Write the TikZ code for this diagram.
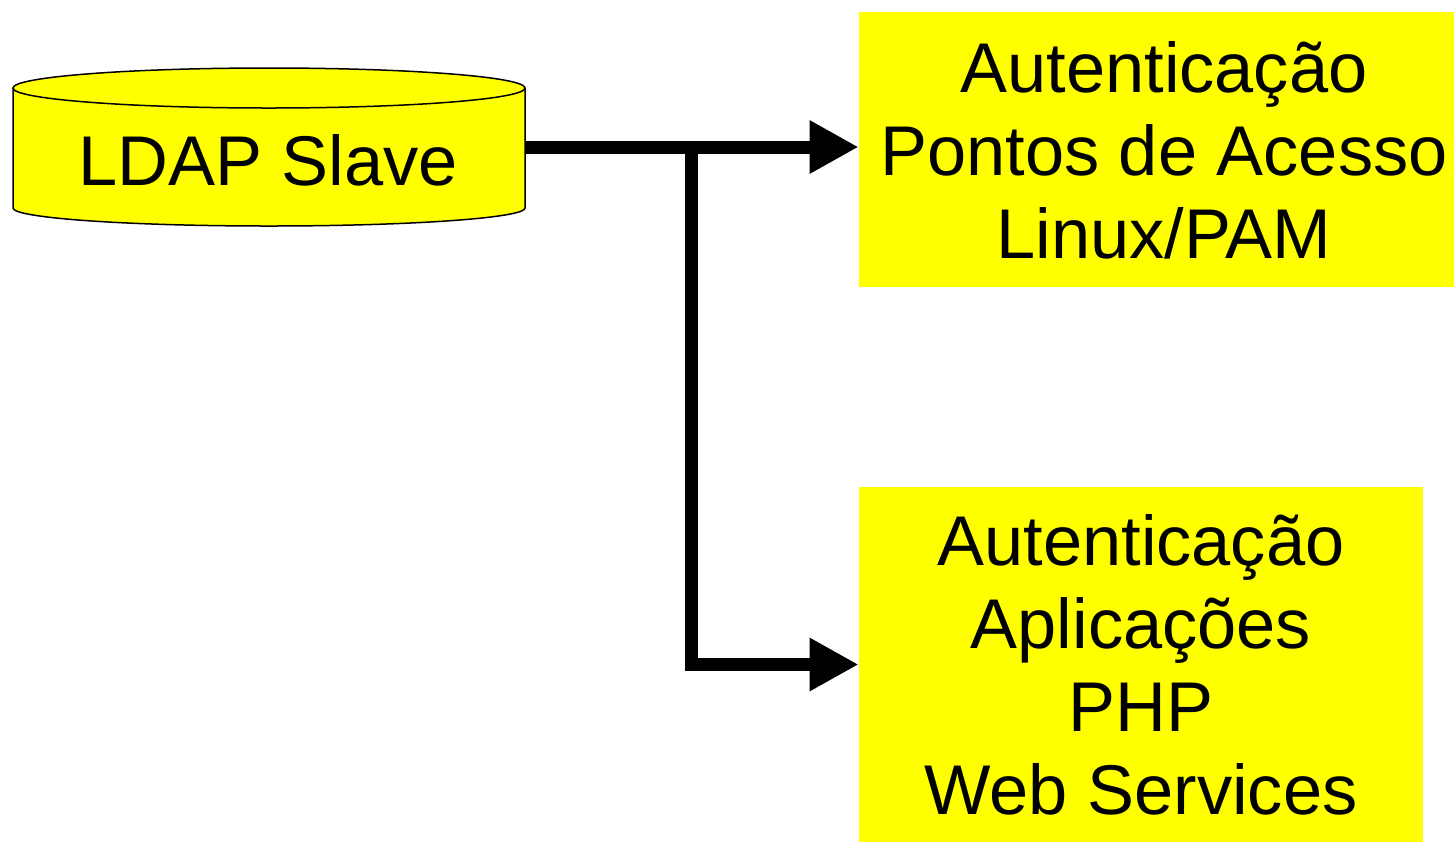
\documentclass[tikz,border=0pt]{standalone}
\usepackage{fontspec}
\setmainfont{Liberation Sans}
\usetikzlibrary{arrows.meta}
\definecolor{boxyellow}{RGB}{255,255,0}
\tikzset{
  bigtext/.style={font=\fontsize{35.2}{41.5}\selectfont, align=center, inner sep=0pt},
  yellowbox/.style={fill=boxyellow, draw=none, inner sep=0pt},
  conn/.style={line width=6.5pt, line join=miter, -{Triangle[length=24.5pt,width=25pt]}},
  cylline/.style={draw=black, line width=0.75pt}
}
\begin{document}
\begin{tikzpicture}[x=0.5pt,y=-0.5pt]
\useasboundingbox (0,0) rectangle (1454,842);
% cylinder (database)
\fill[boxyellow] (13,88) -- (13,208) arc[start angle=180,end angle=0,x radius=256,y radius=18]
  -- (525,88) arc[start angle=0,end angle=-180,x radius=256,y radius=20] -- cycle;
\draw[cylline] (13,88) -- (13,208) arc[start angle=180,end angle=0,x radius=256,y radius=18] -- (525,88);
\draw[cylline] (269,88) ellipse [x radius=256, y radius=20];
\node[minimum width=256pt, minimum height=79pt, inner sep=0pt] (cyl) at (269,147) {};
\node[bigtext] (cyltext) at (268,160) {LDAP Slave};
% target boxes
\node[yellowbox, minimum width=297.5pt, minimum height=137.5pt] (top) at (1156.5,149.5) {};
\node[bigtext] (toptext) at (1164,150) {Autenticação\\Pontos de Acesso\\Linux/PAM};
\node[yellowbox, bigtext, minimum width=282pt, minimum height=177.5pt] (bot) at (1141,664.5)
  {Autenticação\\Aplicações\\PHP\\Web Services};
% connectors
\coordinate (j) at (691,147);
\draw[conn] (cyl.east) -- (cyl.east -| top.west);
\draw[conn] (j) |- (bot.west);
\end{tikzpicture}
\end{document}
